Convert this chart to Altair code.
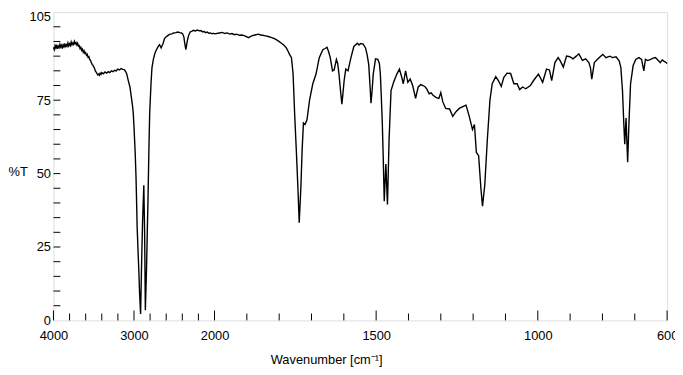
import altair as alt
import pandas as pd

# ---- data ----
wavenumber = [
    4000, 3990, 3980, 3970, 3960, 3950, 3940, 3930, 3920, 3910, 3900, 3890, 3880, 3870, 3860,
    3850, 3840, 3830, 3820, 3810, 3800, 3790, 3780, 3770, 3760, 3750, 3740, 3730, 3720, 3710,
    3700, 3690, 3680, 3670, 3660, 3650, 3640, 3630, 3620, 3610, 3600, 3590, 3580, 3570, 3560,
    3550, 3540, 3530, 3520, 3510, 3500, 3490, 3480, 3470, 3460, 3450, 3440, 3430, 3420, 3410,
    3400, 3380, 3360, 3340, 3320, 3300, 3280, 3260, 3240, 3220, 3200, 3180, 3160, 3140, 3120,
    3100, 3090, 3070, 3050, 3035, 3020, 3010, 3000, 2990, 2985, 2975, 2969, 2961, 2950, 2940,
    2930, 2918, 2905, 2893, 2878, 2868, 2859, 2844, 2835, 2826, 2815, 2805, 2789, 2777, 2760,
    2744, 2730, 2715, 2695, 2682, 2663, 2650, 2640, 2621, 2600, 2580, 2560, 2530, 2507, 2480,
    2458, 2430, 2410, 2396, 2380, 2372, 2356, 2345, 2335, 2320, 2300, 2280, 2260, 2240, 2212,
    2190, 2170, 2151, 2130, 2110, 2090, 2070, 2053, 2030, 2015, 2000,
    1985, 1976, 1968, 1961, 1953, 1946, 1938, 1931, 1923, 1915, 1906, 1895, 1885, 1875, 1864,
    1857, 1851, 1842, 1834, 1825, 1813, 1803, 1793, 1785, 1778, 1772, 1768, 1762, 1757, 1752,
    1747, 1742, 1738, 1733, 1729, 1725, 1720, 1714, 1706, 1696, 1686, 1676, 1665, 1658, 1652,
    1647, 1642, 1635, 1630, 1623, 1619, 1615, 1610, 1606, 1603, 1599, 1594, 1587, 1578, 1569,
    1558, 1553, 1548, 1540, 1533, 1528, 1523, 1519, 1516, 1512, 1509, 1502, 1495, 1490, 1487,
    1484, 1481, 1478, 1475, 1470, 1465, 1460, 1454, 1446, 1436, 1428, 1421, 1416, 1409, 1402,
    1395, 1387, 1378, 1370, 1362, 1355, 1349, 1344, 1336, 1330, 1324, 1314, 1306, 1300, 1294,
    1285, 1273, 1263, 1253, 1243, 1232, 1222, 1212, 1202, 1196, 1190, 1183, 1176, 1171, 1164,
    1156, 1148, 1141, 1130, 1122, 1113, 1105, 1095, 1084, 1074, 1064, 1056, 1047, 1037, 1023,
    1013, 998, 985, 973, 964, 957, 947, 937, 930, 921, 911, 901, 891, 881, 873,
    862, 852, 842, 837, 833, 829, 825, 814, 799, 789, 777, 769, 758, 748, 743,
    738, 734, 731, 727, 722, 718, 713, 705, 697, 687, 679, 672, 667, 660, 651,
    643, 636, 628, 621, 615, 610, 605, 600,
]
transmittance = [
    93.0, 92.2, 93.6, 92.8, 93.9, 92.5, 93.4, 92.9, 94.0, 93.1, 93.7, 92.6, 93.8, 93.2, 94.3,
    93.0, 93.9, 93.4, 94.5, 93.5, 94.2, 93.6, 94.8, 93.9, 94.5, 94.0, 95.0, 94.2, 94.6, 93.8,
    94.4, 93.4, 93.6, 92.6, 93.0, 92.0, 92.4, 91.3, 91.8, 90.9, 91.2, 90.3, 90.6, 89.6, 89.8,
    88.8, 88.6, 87.8, 87.2, 86.9, 86.3, 85.9, 85.0, 84.6, 84.1, 83.6, 83.9, 83.5, 84.2, 83.8,
    84.4, 84.0, 84.6, 84.2, 84.7, 84.4, 85.0, 84.7, 85.2, 85.0, 85.6, 85.3, 85.8, 85.5, 85.4,
    84.6, 83.9, 81.6, 79.5, 76.5, 73.5, 71.0, 66.0, 60.0, 57.0, 49.0, 42.0, 32.0, 24.0, 17.0,
    9.0, 2.2, 20.0, 34.0, 46.0, 30.0, 3.5, 18.0, 30.0, 41.0, 58.0, 70.6, 80.5, 86.0, 88.8,
    90.6, 91.7, 92.5, 93.5, 93.9, 92.8, 93.6, 94.2, 96.0, 96.6, 97.0, 97.4, 97.6, 97.9, 98.0,
    98.2, 98.0, 97.9, 97.6, 96.5, 94.8, 92.2, 94.0, 95.6, 97.2, 98.3, 98.5, 98.8, 98.6, 98.9,
    98.6, 98.7, 98.3, 98.4, 98.0, 98.2, 97.8, 97.9, 97.6, 97.8, 97.6,
    97.9, 98.1, 97.7, 97.9, 97.5, 97.7, 97.3, 97.5, 97.1, 97.2, 96.9, 96.3, 96.9, 97.2, 97.5,
    97.2, 97.1, 96.9, 96.7, 96.4, 95.9, 95.2, 94.4, 93.7, 92.8, 91.6, 90.6, 89.5, 84.0, 70.0,
    58.0, 45.0, 33.3, 45.0, 58.0, 67.2, 66.7, 68.3, 75.0, 80.6, 83.9, 89.5, 92.2, 92.6, 93.0,
    91.5, 89.5, 85.0, 85.3, 88.9, 87.5, 83.9, 78.0, 73.6, 77.0, 81.7, 85.6, 85.0, 89.5, 93.3,
    94.4, 93.8, 94.3, 94.1, 92.8, 90.5, 87.2, 80.0, 74.0, 79.0, 83.9, 89.1, 88.9, 87.5, 83.9,
    76.0, 67.2, 55.0, 40.6, 53.3, 39.5, 61.7, 78.3, 81.1, 83.9, 85.6, 82.9, 80.6, 85.0, 81.1,
    82.2, 80.0, 75.6, 79.5, 80.3, 80.0, 79.6, 78.9, 77.2, 77.5, 76.7, 75.9, 75.6, 77.6, 74.5,
    72.2, 72.0, 69.5, 71.1, 72.2, 72.8, 73.3, 69.5, 65.0, 66.7, 57.2, 56.1, 45.0, 38.9, 46.1,
    61.7, 75.0, 80.6, 83.0, 81.7, 79.7, 82.8, 84.2, 84.1, 80.6, 80.6, 78.6, 79.5, 78.9, 80.0,
    81.7, 83.9, 81.1, 85.6, 85.3, 81.7, 87.8, 89.5, 88.3, 86.3, 90.0, 89.8, 89.1, 90.0, 90.8,
    88.6, 89.1, 87.8, 86.0, 82.2, 85.0, 87.8, 89.1, 90.6, 89.5, 90.0, 89.5, 89.8, 88.3, 86.1,
    78.3, 67.2, 60.0, 68.9, 53.9, 67.2, 80.6, 86.8, 88.9, 89.5, 88.9, 85.0, 88.9, 88.5, 88.9,
    89.3, 89.5, 88.6, 87.8, 88.7, 88.3, 88.0, 87.5,
]

x_label_values = [4000, 3000, 2000, 1500, 1000, 600]
x_minor_ticks = [3800, 3600, 3400, 3200, 2800, 2600, 2400, 2200,
                 1900, 1800, 1700, 1600, 1400, 1300, 1200, 1100, 900, 800, 700]
y_label_values = [0, 25, 50, 75, 105]
y_ticks = [5, 10, 15, 20, 25, 30, 35, 40, 45, 50, 55, 60, 65, 70, 75, 80, 85, 90, 95, 100]

W, H = 621, 312
FONT = "Liberation Sans"

df = pd.DataFrame({"wn": wavenumber, "T": transmittance})

x_scale = alt.Scale(domain=[4000, 2000, 600], range=[0, 163, W], nice=False, zero=False)
y_scale = alt.Scale(domain=[0, 105], nice=False, zero=False)

x_axis = alt.Axis(
    values=x_label_values, format="d", ticks=False, tickSize=0, domain=False, grid=False,
    labelFlush=False, labelOverlap=False, labelPadding=9, labelFont=FONT, labelFontSize=13,
    labelColor="black", title="Wavenumber [cm⁻¹]", titleFont=FONT, titleFontSize=13,
    titleFontWeight="normal", titleColor="black", titleX=276, titleY=40,
    titleAlign="center", titleBaseline="middle",
)
y_axis = alt.Axis(
    values=y_label_values, format="d", ticks=False, tickSize=0, domain=False, grid=False,
    labelFlush=False, labelOverlap=False, labelPadding=3, labelFont=FONT, labelFontSize=13,
    labelColor="black",
    labelOffset={"condition": {"test": "datum.value == 105", "value": 4}, "value": 0},
    title="%T", titleFont=FONT, titleFontSize=13, titleFontWeight="normal",
    titleColor="black", titleAngle=0, titleX=-46, titleY=161,
    titleAlign="left", titleBaseline="middle",
)

line = alt.Chart(df).mark_line(color="black", strokeWidth=1.4).encode(
    x=alt.X("wn:Q", scale=x_scale, axis=x_axis),
    y=alt.Y("T:Q", scale=y_scale, axis=y_axis),
)

xmaj = alt.Chart(pd.DataFrame({"wn": x_label_values})).mark_rule(color="black", strokeWidth=1).encode(
    x=alt.X("wn:Q", scale=x_scale),
    y=alt.value(H), y2=alt.value(H - 10),
)
xmin = alt.Chart(pd.DataFrame({"wn": x_minor_ticks})).mark_rule(color="black", strokeWidth=1).encode(
    x=alt.X("wn:Q", scale=x_scale),
    y=alt.value(H), y2=alt.value(H - 7),
)
yt = alt.Chart(pd.DataFrame({"T": y_ticks})).mark_rule(color="black", strokeWidth=1).encode(
    y=alt.Y("T:Q", scale=y_scale),
    x=alt.value(0), x2=alt.value(7),
)

chart = alt.layer(xmin, xmaj, yt, line).properties(
    width=W, height=H,
    padding={"left": 46, "top": 2, "right": 8, "bottom": 45},
    autosize=alt.AutoSizeParams(type="none"),
).configure_view(stroke="black", strokeWidth=1.2).configure(background="white")

chart.save("out.html", embed_options={"renderer": "svg", "actions": False})
